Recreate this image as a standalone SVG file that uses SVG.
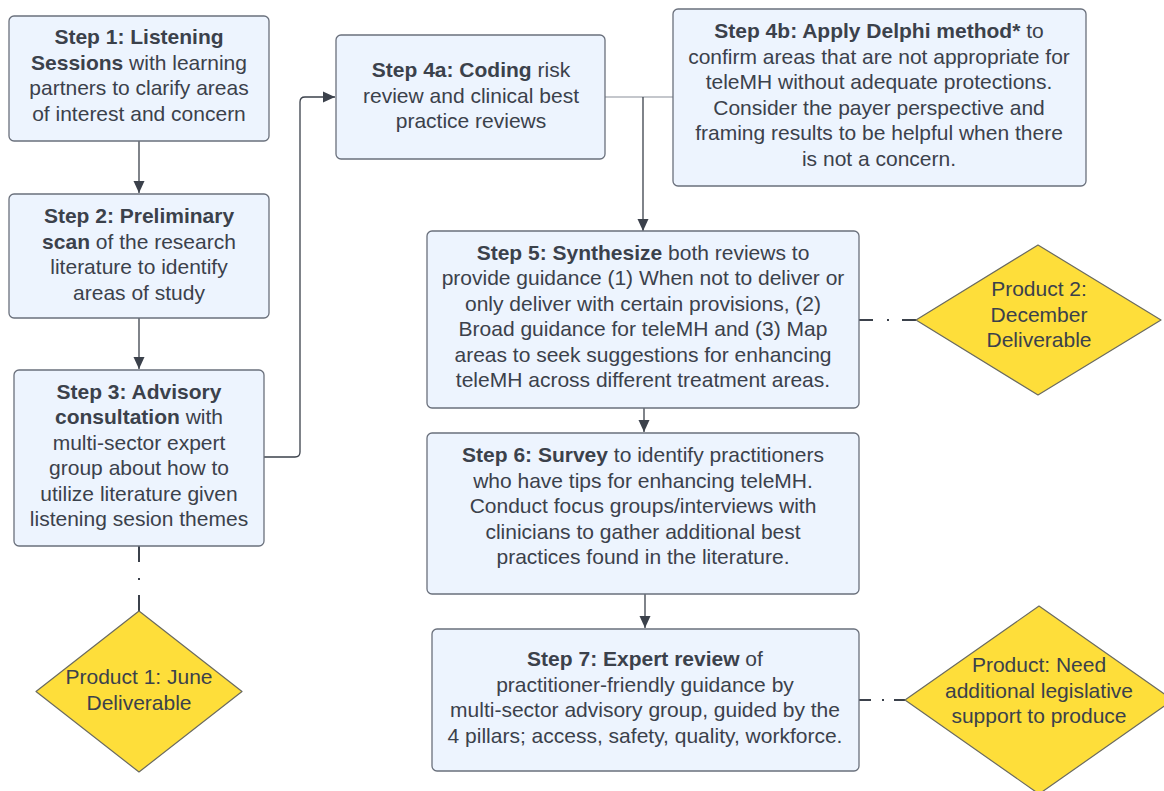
<svg xmlns="http://www.w3.org/2000/svg" width="1164" height="791" viewBox="0 0 1164 791">
<style>
.box{fill:#edf4fe;stroke:#6a707c;stroke-width:1.3}
.dia{fill:#fede3a;stroke:#6a6a60;stroke-width:1.2;stroke-linejoin:round}
text{font-family:"Liberation Sans",Arial,sans-serif;font-size:21px;fill:#3b414b;text-anchor:middle}
.b{font-weight:bold}
.c{fill:none;stroke:#3b414b;stroke-width:1.3}
.g{fill:none;stroke:#8a9099;stroke-width:1.2}
.d{fill:none;stroke:#3b414b;stroke-width:2}
</style>
<defs>
<marker id="ah" markerUnits="userSpaceOnUse" markerWidth="12" markerHeight="12" viewBox="0 0 12 12" refX="12" refY="6" orient="auto">
<path d="M0,0.5 L12,6 L0,11.5 z" fill="#3b414b"/>
</marker>
</defs>
<rect width="1164" height="791" fill="#ffffff"/>
<g id="connectors">
<line class="c" x1="139" y1="141" x2="139" y2="193" marker-end="url(#ah)"/>
<line class="c" x1="139" y1="318" x2="139" y2="369" marker-end="url(#ah)"/>
<path class="c" d="M264,457 H295 Q300,457 300,452 V102 Q300,97 305,97 H335" marker-end="url(#ah)"/>
<line class="g" x1="605" y1="97" x2="673" y2="97"/>
<line class="c" x1="643" y1="97" x2="643" y2="231" marker-end="url(#ah)"/>
<line class="c" x1="644" y1="408" x2="644" y2="432" marker-end="url(#ah)"/>
<line class="c" x1="645" y1="594" x2="645" y2="628" marker-end="url(#ah)"/>
<line class="d" x1="139" y1="546" x2="139" y2="611" stroke-dasharray="16 16 2 15 16"/>
<line class="d" x1="859" y1="320" x2="916" y2="320" stroke-dasharray="14 14 2 13 14"/>
<line class="d" x1="859" y1="700" x2="905" y2="700" stroke-dasharray="12 11 2 10 11"/>
</g>
<g id="step1">
<rect class="box" x="9" y="16" width="260" height="125" rx="5"/>
<text x="139" y="44"><tspan class="b">Step 1: Listening</tspan></text>
<text x="139" y="69.5"><tspan class="b">Sessions</tspan> with learning</text>
<text x="139" y="95">partners to clarify areas</text>
<text x="139" y="120.5">of interest and concern</text>
</g>
<g id="step2">
<rect class="box" x="9" y="194" width="260" height="124" rx="5"/>
<text x="139" y="223"><tspan class="b">Step 2: Preliminary</tspan></text>
<text x="139" y="248.5"><tspan class="b">scan</tspan> of the research</text>
<text x="139" y="274">literature to identify</text>
<text x="139" y="299.5">areas of study</text>
</g>
<g id="step3">
<rect class="box" x="14" y="370" width="250" height="176" rx="5"/>
<text x="139" y="398.5"><tspan class="b">Step 3: Advisory</tspan></text>
<text x="139" y="424"><tspan class="b">consultation</tspan> with</text>
<text x="139" y="449.5">multi-sector expert</text>
<text x="139" y="475">group about how to</text>
<text x="139" y="500.5">utilize literature given</text>
<text x="139" y="526">listening sesion themes</text>
</g>
<g id="step4a">
<rect class="box" x="336" y="35" width="269" height="124" rx="5"/>
<text x="471" y="77"><tspan class="b">Step 4a: Coding</tspan> risk</text>
<text x="471" y="102.5">review and clinical best</text>
<text x="471" y="128">practice reviews</text>
</g>
<g id="step4b">
<rect class="box" x="673" y="9" width="413" height="177" rx="5"/>
<text x="879" y="38"><tspan class="b">Step 4b: Apply Delphi method*</tspan> to</text>
<text x="879" y="63.5">confirm areas that are not appropriate for</text>
<text x="879" y="89">teleMH without adequate protections.</text>
<text x="879" y="114.5">Consider the payer perspective and</text>
<text x="879" y="140">framing results to be helpful when there</text>
<text x="879" y="165.5">is not a concern.</text>
</g>
<g id="step5">
<rect class="box" x="427" y="231" width="432" height="177" rx="5"/>
<text x="643" y="259.5"><tspan class="b">Step 5: Synthesize</tspan> both reviews to</text>
<text x="643" y="285">provide guidance (1) When not to deliver or</text>
<text x="643" y="310.5">only deliver with certain provisions, (2)</text>
<text x="643" y="336">Broad guidance for teleMH and (3) Map</text>
<text x="643" y="361.5">areas to seek suggestions for enhancing</text>
<text x="643" y="387">teleMH across different treatment areas.</text>
</g>
<g id="step6">
<rect class="box" x="427" y="433" width="432" height="161" rx="5"/>
<text x="643" y="462"><tspan class="b">Step 6: Survey</tspan> to identify practitioners</text>
<text x="643" y="487.5">who have tips for enhancing teleMH.</text>
<text x="643" y="513">Conduct focus groups/interviews with</text>
<text x="643" y="538.5">clinicians to gather additional best</text>
<text x="643" y="564">practices found in the literature.</text>
</g>
<g id="step7">
<rect class="box" x="432" y="629" width="427" height="142" rx="5"/>
<text x="645" y="666"><tspan class="b">Step 7: Expert review</tspan> of</text>
<text x="645" y="691.5">practitioner-friendly guidance by</text>
<text x="645" y="717">multi-sector advisory group, guided by the</text>
<text x="645" y="742.5">4 pillars; access, safety, quality, workforce.</text>
</g>
<g id="product1">
<polygon class="dia" points="139,611 242,691.5 139,772 36,691.5"/>
<text x="139" y="684">Product 1: June</text>
<text x="139" y="709.5">Deliverable</text>
</g>
<g id="product2">
<polygon class="dia" points="1038,245 1161,320 1038,395 916,320"/>
<text x="1039" y="296">Product 2:</text>
<text x="1039" y="321.5">December</text>
<text x="1039" y="347">Deliverable</text>
</g>
<g id="product3">
<polygon class="dia" points="1039,606 1173,700 1039,794 905,700"/>
<text x="1039" y="672">Product: Need</text>
<text x="1039" y="697.5">additional legislative</text>
<text x="1039" y="723">support to produce</text>
</g>
</svg>
